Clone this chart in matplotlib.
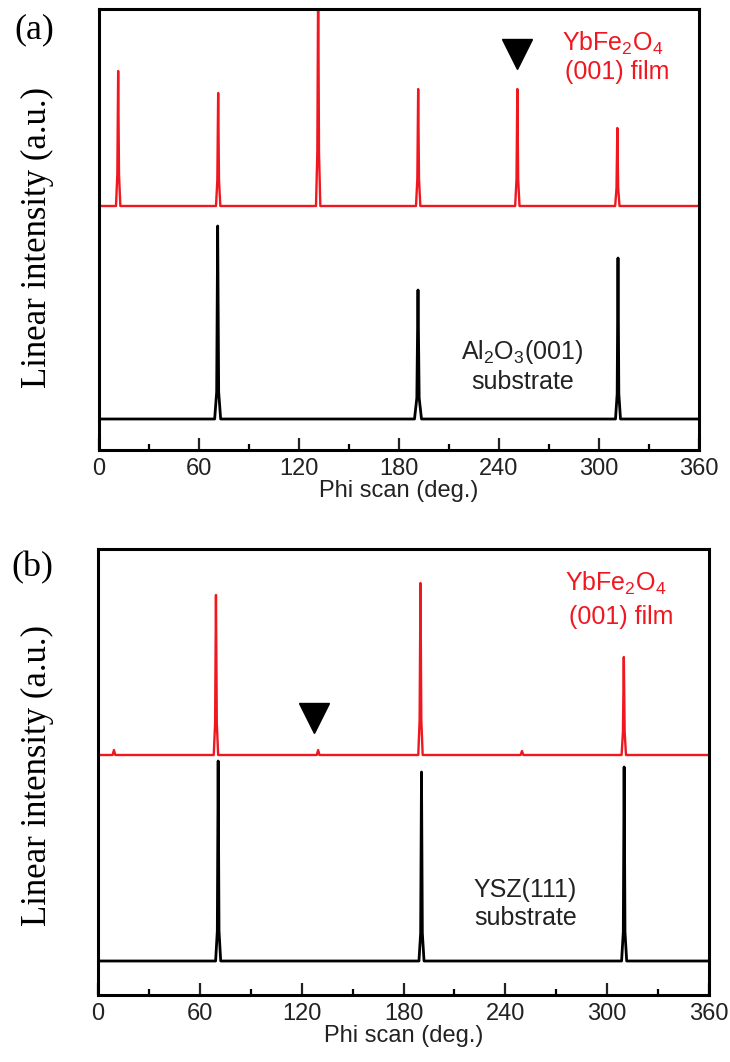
import matplotlib
matplotlib.use('Agg')
import matplotlib.pyplot as plt

# --- fonts ---
plt.rcParams['font.family'] = ['Liberation Sans', 'DejaVu Sans']
plt.rcParams['mathtext.fontset'] = 'custom'
plt.rcParams['mathtext.rm'] = 'Liberation Sans'
plt.rcParams['mathtext.it'] = 'Liberation Sans:italic'

# --- data (phi in deg, intensity in arb. units) ---
# panel (a): YbFe2O4 film (red, offset) and Al2O3 substrate (black)
film_a_phi = [0, 10.2, 11.0, 11.5, 12.0, 12.8,
              70.2, 71.0, 71.5, 72.0, 72.8,
              130.2, 131.0, 131.5, 132.0, 132.8,
              190.2, 191.0, 191.5, 192.0, 192.8,
              249.7, 250.5, 251.0, 251.5, 252.3,
              309.7, 310.5, 311.0, 311.5, 312.3, 360]
film_a_int = [244, 244, 276, 379, 276, 244,
              244, 270, 357, 270, 244,
              244, 298, 470, 298, 244,
              244, 271, 361, 271, 244,
              244, 271, 361, 271, 244,
              244, 262, 322, 262, 244, 244]
sub_a_phi = [0, 69.4, 70.6, 71.2, 71.8, 73.0,
             189.3, 190.7, 191.4, 192.1, 193.5,
             309.9, 310.9, 311.4, 311.9, 312.9, 360]
sub_a_int = [31, 31, 58, 224, 58, 31,
             31, 52, 160, 52, 31,
             31, 56, 192, 56, 31, 31]

# panel (b): YbFe2O4 film (red, offset) and YSZ substrate (black)
film_b_phi = [0, 8.6, 9.4, 10.2,
              68.2, 69.0, 69.5, 70.0, 70.8,
              128.9, 129.7, 130.5,
              188.7, 189.5, 190.0, 190.5, 191.3,
              249.0, 249.8, 250.6,
              308.5, 309.3, 309.8, 310.3, 311.1, 360]
film_b_int = [240, 240, 245, 240,
              240, 272, 400, 272, 240,
              240, 245, 240,
              240, 275, 412, 275, 240,
              240, 244, 240,
              240, 263, 338, 263, 240, 240]
sub_b_phi = [0, 69.3, 70.3, 70.8, 71.3, 72.3,
             189.1, 190.1, 190.6, 191.1, 192.1,
             308.5, 309.5, 310.0, 310.5, 311.5, 360]
sub_b_int = [34, 34, 64, 234, 64, 34,
             34, 62, 223, 62, 34,
             34, 63, 228, 63, 34, 34]

# triangle markers
tri_a = (251, 396)
tri_b = (127.5, 277)

red = '#f01820'

fig = plt.figure(figsize=(7.3, 10.62), dpi=100)
ax_a = fig.add_axes([99 / 730, 1 - 450 / 1062, 600 / 730, 441 / 1062])
ax_b = fig.add_axes([98 / 730, 1 - 995 / 1062, 611 / 730, 446 / 1062])

for ax in (ax_a, ax_b):
    ax.set_xlim(0, 360)
    ax.set_xticks(range(0, 361, 60))
    ax.set_xticks(range(30, 360, 60), minor=True)
    ax.set_yticks([])
    ax.tick_params(axis='x', which='major', direction='in', length=8.5, width=1.6,
                   labelsize=17, pad=6, colors='#222222')
    ax.tick_params(axis='x', which='minor', direction='in', length=4.2, width=1.6)
    for s in ax.spines.values():
        s.set_linewidth(2.2)
    ax.set_xlabel('Phi scan (deg.)', fontsize=17, labelpad=0, color='#222222')

# panel (a)
ax_a.set_ylim(0, 441)
ax_a.plot(film_a_phi, film_a_int, color=red, lw=1.7, solid_joinstyle='round')
ax_a.plot(sub_a_phi, sub_a_int, color='black', lw=2.0, solid_joinstyle='round')
ax_a.plot([tri_a[0]], [tri_a[1]], marker='v', markersize=22, color='black', ls='none')
ax_a.text(308, 407, 'YbFe$_2$O$_4$', color=red, fontsize=18, ha='center', va='center')
ax_a.text(311, 378, '(001) film', color=red, fontsize=18, ha='center', va='center')
ax_a.text(253.5, 98, 'Al$_2$O$_3$(001)', color='#222222', fontsize=18, ha='center', va='center')
ax_a.text(254, 68, 'substrate', color='#222222', fontsize=18, ha='center', va='center')

# panel (b)
ax_b.set_ylim(0, 446)
ax_b.plot(film_b_phi, film_b_int, color=red, lw=1.7, solid_joinstyle='round')
ax_b.plot(sub_b_phi, sub_b_int, color='black', lw=2.0, solid_joinstyle='round')
ax_b.plot([tri_b[0]], [tri_b[1]], marker='v', markersize=21, color='black', ls='none')
ax_b.text(305, 412, 'YbFe$_2$O$_4$', color=red, fontsize=18, ha='center', va='center')
ax_b.text(308, 378, '(001) film', color=red, fontsize=18, ha='center', va='center')
ax_b.text(251.7, 105, 'YSZ(111)', color='#222222', fontsize=18, ha='center', va='center')
ax_b.text(252, 77, 'substrate', color='#222222', fontsize=18, ha='center', va='center')

# panel letters and y labels (serif)
serif = ['Liberation Serif', 'DejaVu Serif']
fig.text(34 / 730, 1 - 30 / 1062, '(a)', family=serif, fontsize=26, ha='center', va='center')
fig.text(32 / 730, 1 - 568 / 1062, '(b)', family=serif, fontsize=26, ha='center', va='center')
fig.text(37 / 730, 1 - 238 / 1062, 'Linear intensity (a.u.)', family=serif, fontsize=25,
         rotation=90, ha='center', va='center')
fig.text(37 / 730, 1 - 776 / 1062, 'Linear intensity (a.u.)', family=serif, fontsize=25,
         rotation=90, ha='center', va='center')

fig.savefig('out.png', dpi=100)
